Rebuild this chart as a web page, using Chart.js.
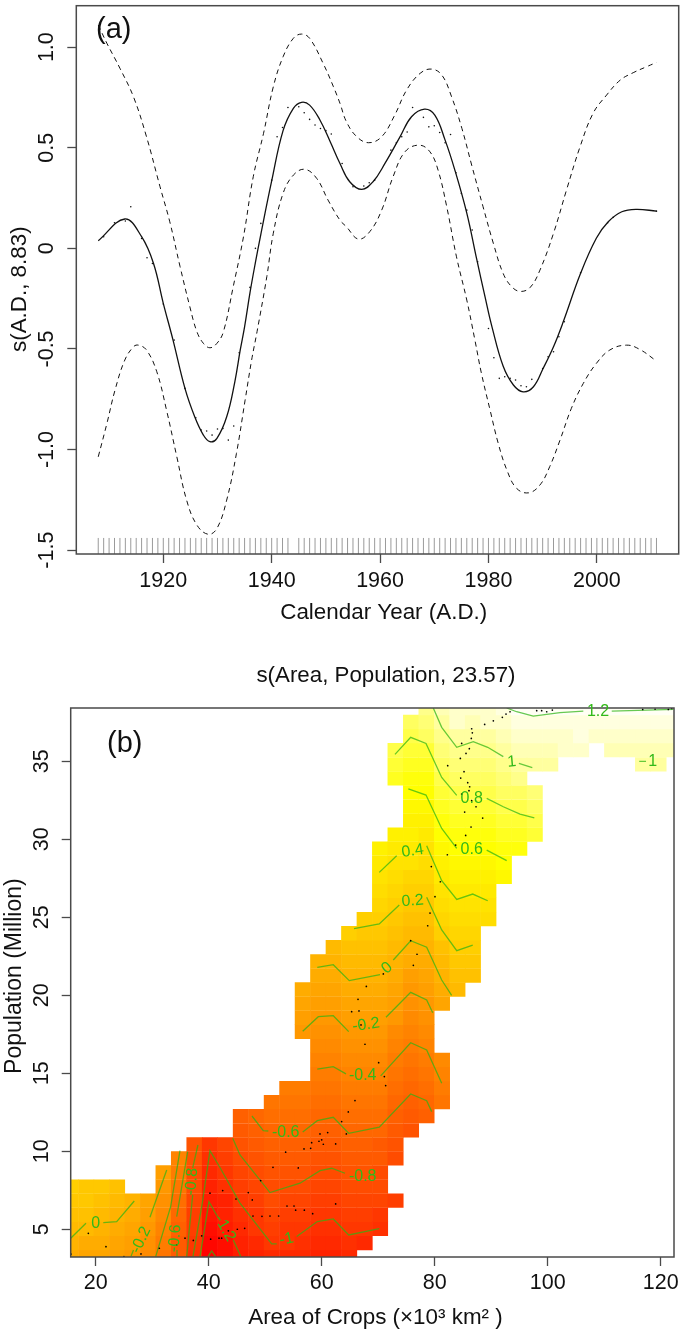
<!DOCTYPE html>
<html><head><meta charset="utf-8">
<style>html,body{margin:0;padding:0;background:#fff}
#wrap{position:relative;width:685px;height:1337px;overflow:hidden}
canvas{position:absolute;left:0}</style>
<script src="https://cdn.jsdelivr.net/npm/chart.js@4"></script>
</head><body><div id="wrap"><canvas id="a" width="685" height="640" style="top:0"></canvas><canvas id="b" width="685" height="697" style="top:640px"></canvas></div>
<script>
// ---------- Panel (a) ----------
const meanYears=[1908,1912.9,1916,1918.2,1920,1921.8,1924,1925.8,1927.4,1928.6,1929.9,1931.7,1933.2,1934.2,1935,1936,1937,1938,1940,1942.1,1944,1945.5,1947,1948.9,1950.8,1952.6,1954.4,1956.6,1958.7,1960.9,1963.7,1965.8,1968.2,1970.1,1972,1973.8,1976,1977.8,1979.4,1980.6,1982.7,1984.6,1986.4,1988.3,1990.1,1992,1993.8,1997,1999.9,2002.1,2004.6,2007.3,2011];
const meanVals=[.038,.146,.058,-.075,-.273,-.456,-.696,-.837,-.928,-.961,-.944,-.837,-.663,-.505,-.39,-.22,-.07,.07,.335,.585,.696,.726,.712,.638,.53,.422,.331,.293,.331,.422,.555,.654,.692,.662,.538,.389,.175,-.05,-.245,-.385,-.585,-.679,-.713,-.688,-.596,-.489,-.365,-.124,.05,.132,.182,.194,.185];
const upperYears=[1908,1909.6,1912,1914.5,1916.9,1919.4,1921.2,1923.1,1924.9,1926.2,1927.4,1928.6,1929.9,1931.1,1932.9,1934.8,1936.6,1938.5,1940.3,1942.1,1944,1945.5,1947,1949.5,1951.4,1952.6,1953.8,1955.7,1957.9,1960.3,1962.7,1964.9,1967.4,1969.5,1971.4,1973.2,1975.1,1976.9,1979,1980.9,1982.7,1984.3,1985.9,1987.7,1989.5,1992,1994.4,1996.9,1999.3,2001.8,2004.3,2006.7,2009.2,2011];
const upperVals=[1.11,1.019,.895,.753,.555,.306,.132,-.091,-.29,-.414,-.472,-.494,-.472,-.414,-.191,.058,.356,.572,.803,.952,1.044,1.065,1.044,.919,.803,.721,.629,.555,.525,.555,.662,.787,.87,.891,.861,.753,.596,.414,.207,.025,-.124,-.191,-.214,-.194,-.108,.075,.29,.505,.671,.762,.836,.873,.903,.924];
const lowerYears=[1908,1909.6,1911.1,1912.9,1914.5,1915.4,1916.9,1918.8,1920.6,1922.5,1924.3,1926.2,1928.3,1929.9,1931.7,1933.5,1935.1,1936.3,1937.3,1939.1,1940.3,1942.1,1944,1946.1,1948.3,1950.4,1952.6,1953.8,1956,1958.1,1960.3,1962.4,1964.6,1967.2,1969.2,1970.7,1972.3,1974.1,1976,1977.5,1978.7,1980.3,1981.8,1983.4,1985.2,1987.4,1989.5,1991.3,1993.2,1995.3,1997.5,1999.9,2002.4,2005.5,2007.9,2011];
const lowerVals=[-1.036,-.87,-.704,-.555,-.489,-.481,-.505,-.613,-.804,-1.036,-1.251,-1.375,-1.421,-1.392,-1.251,-1.019,-.754,-.555,-.414,-.141,.075,.273,.364,.393,.348,.24,.14,.107,.046,.083,.19,.356,.48,.513,.48,.389,.207,-.042,-.257,-.456,-.621,-.804,-.969,-1.102,-1.193,-1.215,-1.176,-1.085,-.953,-.795,-.671,-.572,-.505,-.481,-.502,-.56];
const dotYears=[1909,1911,1913,1914,1916,1917,1918,1920,1922,1924,1926,1927,1928,1929,1930,1931,1932,1933,1934,1936,1937,1938,1940,1941,1942,1943,1945,1946,1947,1948,1949,1950,1951,1953,1955,1957,1958,1959,1962,1963,1964,1965,1966,1968,1969,1970,1971,1972,1973,1974,1975,1976,1977,1978,1980,1981,1982,1983,1984,1985,1986,1987,1988,1990,1991,1992,1993,1994,1997,2002,2003,2011];
const dotVals=[.058,.127,.136,.207,.049,-.047,-.075,-.277,-.456,-.696,-.842,-.903,-.908,-.928,-.898,-.895,-.953,-.883,-.519,-.194,0,.124,.339,.555,.601,.7,.704,.674,.641,.613,.596,.585,.568,.422,.306,.31,.326,.339,.488,.525,.555,.578,.7,.651,.604,.609,.576,.525,.566,.376,.273,.19,.091,-.067,-.398,-.544,-.646,-.638,-.646,-.654,-.683,-.688,-.651,-.597,-.539,-.514,-.439,-.365,-.121,.127,.154,.185];
const rugYears=[1908,1909,1910,1911,1912,1913,1914,1915,1916,1917,1918,1919,1920,1921,1922,1923,1924,1925,1926,1927,1928,1929,1930,1931,1932,1933,1934,1935,1936,1937,1938,1939,1940,1941,1942,1943,1945,1946,1947,1948,1949,1950,1951,1952,1953,1954,1955,1956,1957,1958,1959,1960,1961,1962,1963,1964,1965,1966,1967,1968,1969,1970,1971,1972,1973,1974,1975,1976,1977,1978,1979,1980,1981,1982,1983,1984,1985,1986,1987,1988,1989,1990,1991,1992,1993,1994,1995,1996,1997,1998,1999,2000,2001,2002,2003,2004,2005,2006,2007,2008,2009,2010,2011];
const rugLevel=-1.479;
const xTicksA=[1920,1940,1960,1980,2000];
const yTicksA=[-1.5,-1,-.5,0,.5,1];
const yLabelsA=['-1.5','-1.0','-0.5','0','0.5','1.0'];

// ---------- Panel (b) ----------
const gridX=[15.58,18.32,21.06,23.79,26.53,29.27,32.01,34.74,37.48,40.22,42.96,45.69,48.43,51.17,53.91,56.65,59.38,62.12,64.86,67.6,70.33,73.07,75.81,78.55,81.29,84.02,86.76,89.5,92.24,94.97,97.71,100.45,103.19,105.92,108.66,111.4,114.14,116.87,119.61,122.35];
const gridY=[3.22,4.12,5.03,5.93,6.83,7.73,8.64,9.54,10.44,11.34,12.25,13.15,14.05,14.95,15.86,16.76,17.66,18.56,19.47,20.37,21.27,22.17,23.08,23.98,24.88,25.79,26.69,27.59,28.49,29.4,30.3,31.2,32.1,33.01,33.91,34.81,35.72,36.62,37.52,38.42];
const columnFirstRow=[0,0,0,0,0,0,0,0,0,0,0,0,0,0,0,0,0,0,0,1,2,4,9,10,11,19,20,24,27,29,30,35,36,36,37,36,36,35,35,36];
const surfaceByColumn=[
[-.07,.01,.06,.12,.16,.2],
[-.1,-.03,.03,.09,.14,.18],
[-.12,-.07,-.01,.05,.1,.14],
[-.14,-.09,-.03,.02,.07,.12],
[-.2,-.15,-.1,-.05,0],
[-.34,-.28,-.22,-.16,-.11],
[-.5,-.44,-.38,-.33,-.28,-.22,-.18],
[-.72,-.67,-.63,-.6,-.55,-.48,-.43,-.4],
[-1,-.95,-.92,-.89,-.86,-.83,-.8,-.77,-.73],
[-1.42,-1.36,-1.31,-1.25,-1.19,-1.14,-1.09,-1.03,-.98],
[-1.31,-1.26,-1.2,-1.15,-1.1,-1.04,-.98,-.92,-.86],
[-1.2,-1.14,-1.09,-1.04,-.98,-.92,-.87,-.81,-.76,-.7,-.65],
[-1.12,-1.06,-.99,-.95,-.91,-.85,-.79,-.74,-.69,-.63,-.58],
[-1.05,-.99,-.93,-.88,-.83,-.78,-.73,-.69,-.64,-.6,-.55,-.5],
[-1.05,-.99,-.95,-.9,-.85,-.79,-.74,-.69,-.64,-.59,-.55,-.5,-.45],
[-1.08,-1.03,-.97,-.92,-.87,-.81,-.75,-.7,-.65,-.59,-.53,-.47,-.42,null,null,null,-.2,-.15,-.1,-.04],
[-1.14,-1.08,-1.03,-.97,-.91,-.86,-.8,-.75,-.69,-.64,-.58,-.53,-.47,-.42,-.37,-.31,-.26,-.2,-.15,-.09,-.03,.02],
[-1.14,-1.09,-1.03,-.98,-.92,-.87,-.81,-.75,-.69,-.64,-.58,-.53,-.47,-.42,-.37,-.32,-.26,-.21,-.15,-.1,-.04,.01,.07],
[-1.08,-1.03,-.97,-.92,-.86,-.81,-.76,-.7,-.65,-.59,-.53,-.48,-.42,-.37,-.31,-.26,-.2,-.15,-.09,-.04,.02,.08,.13,.19],
[-1.05,-.99,-.93,-.88,-.82,-.76,-.71,-.65,-.6,-.55,-.49,-.44,-.38,-.33,-.27,-.22,-.16,-.1,-.05,.01,.07,.12,.18,.23],
[-1,-.94,-.88,-.83,-.78,-.72,-.67,-.61,-.56,-.5,-.45,-.39,-.34,-.28,-.23,-.17,-.12,-.06,0,.05,.11,.16,.22,.27,.33,.38,.44,.49],
[-.92,null,null,-.78,-.73,-.67,-.62,-.57,-.51,-.46,-.41,-.35,-.3,-.24,-.18,-.12,-.07,-.01,.04,.1,.15,.2,.27,.33,.38,.44,.49,null,null,null,.71,.76,.82],
[-.74,-.69,-.63,-.58,-.52,-.47,-.41,-.36,-.3,-.25,-.19,-.14,-.08,-.02,.04,.11,.18,.24,.29,.35,.41,.46,.49,.54,.59,.66,.7,.76,.81,.86],
[-.66,-.6,-.55,-.49,-.44,-.38,-.33,-.27,-.21,-.16,-.1,-.05,0,.06,.11,.17,.22,.27,.33,.39,.44,.5,.56,.61,.67,.72,.77,.84,.91,.98],
[-.47,-.42,-.37,-.31,null,null,null,-.09,-.04,.02,.08,.13,.19,.25,.3,.36,.41,.47,.52,.57,.63,.69,.74,.8,.85,.91,.96,1.02,1.07],
[.05,.1,.16,.22,.27,.32,.38,.43,.48,.53,.59,.64,.69,.75,.82,.88,.93,.99,1.04,1.1,1.13],
[.09,.14,.19,.25,.3,.36,.41,.48,.54,.6,.64,.7,.76,.81,.87,.92,.97,1.02,1.07,1.12],
[.33,.38,.44,.49,.55,.6,.66,.71,.77,.82,.88,.93,.99,1.04,1.1,1.13],
[.54,.59,.65,.7,.75,.8,.86,.91,.97,1.03,1.08,1.14,1.17],
[.67,.72,.77,.83,.88,.94,1,1.05,1.1,1.18,1.21],
[.74,.79,.85,.91,null,1.02,1.07,1.13,1.2,1.23],
[1.04,1.09,1.14,1.19,1.24],
[1.1,1.15,1.2,1.24],
[1.1,1.16,1.2,1.24],
[1.15,1.2,1.24],
[1.09,1.14,1.2,1.24],
[1.07,1.13,1.2,1.24],
[1,1.06,1.12,1.2,1.25],
[1,1.05,1.12,1.2,1.25],
[1.05,1.12,1.19,1.26]];
const contourSegments=[
[[92.74,38.42],[94.5,38.18],[97.45,37.9],[102.18,38.12],[106.3,38.22]],
[[111.33,38.22],[122.23,38.33]],
[[79.75,38.42],[81.24,37.18],[83.9,35.9],[86.83,36.26],[89.38,35.9],[92.14,35.3]],
[[94.9,34.87],[97.27,34.6]],
[[116.2,35],[117.4,35]],
[[72.97,35.45],[75.75,36.54],[78.46,36.15],[81.24,33.97],[83.9,32.82]],
[[89.2,32.63],[92.14,32.09],[95.1,31.62],[97.63,31.37]],
[[75.33,33.24],[78.46,32.84],[81.24,30.7],[83.9,29.42]],
[[89.2,29.31],[92.74,28.63]],
[[70.19,27.88],[73.27,28.95]],
[[78.58,29.59],[81.24,27.35],[83.9,26.15],[86.73,26.49],[89.38,26.06]],
[[65.72,24.27],[70.19,24.57],[73.73,25.79]],
[[78.58,26.28],[81.24,24.19],[83.9,22.86],[86.73,23.21]],
[[59.22,21.79],[62.05,21.96],[64.88,20.94],[70.32,21.32]],
[[72.67,22.26],[75.75,23.5],[78.58,23.08],[81.24,20.98],[83,20]],
[[15.58,4.42],[18.28,5.38]],
[[21.35,5.42],[23.72,5.49],[26.83,6.81]],
[[56.64,17.69],[59.4,18.63],[62.05,18.69],[64.78,17.67]],
[[71.38,18.59],[75.75,20.19],[78.58,19.7],[79.65,18.88]],
[[29.61,5.77],[32.57,8.8]],
[[26.25,3.26],[26.69,3.67]],
[[59.22,15.26],[62.05,15.42],[64.3,14.96]],
[[70.44,14.83],[75.75,16.96],[78.58,16.49],[81.24,14.36]],
[[30.62,3.24],[31.68,4.53],[33.27,6.45],[34.92,10.04]],
[[47.66,12.26],[49.66,11.32],[50.55,11.3]],
[[56.64,11.24],[59.22,11.96],[62.05,12.18],[64.78,11.15],[70.19,11.54],[75.75,13.67],[78.58,13.24],[79.47,12.54]],
[[34.34,5.81],[36.28,9.97]],
[[34.3,3.27],[34.39,3.67]],
[[44.25,10.83],[45.54,9.76],[50.85,7.35],[56.16,7.95],[59.7,8.76],[61.77,8.91],[64.12,8.59]],
[[38.1,10.4],[37.17,8.93]],
[[37.17,7.2],[36.1,3.24]],
[[37.22,3.24],[38.87,6.69],[40.23,10.04],[42,8.96],[45.54,6.67],[51.15,4.06],[52.04,4.06]],
[[55.58,4.53],[59.22,5.49],[62.05,5.66],[64.78,4.63],[70.19,5.04]],
[[38.46,3.24],[40.05,6.77],[41.7,5.72]],
[[44.35,4.31],[45.7,3.24]],
[[39.88,3.24],[40.53,3.61],[41.24,3.24]]];
const contourLabels=[
['1.2',108.9,38.16,0],['1',93.63,34.96,-5],['1',118.6,34.97,0],['0.8',86.55,32.58,0],['0.6',86.55,29.31,0],
['0.4',76.1,29.25,-8],['0.2',76.1,26.05,-5],['0',71.56,21.75,-40],['0',20,5.34,0],['-0.2',67.84,18.1,-8],
['-0.4',67.26,14.83,0],['-0.6',53.63,11.19,0],['-0.8',67.26,8.37,0],['-1',53.8,4.36,-12],
['-0.2',28.02,4.31,-65],['-0.6',34.04,4.42,-85],['-0.8',37,8.05,-85],['-1.2',42.88,5.06,60]];
const sampleArea=[98.05,98.93,99.82,100.82,93.33,92.62,91.97,90.38,88.84,86.54,86.66,86.48,84.77,86.13,85.54,84.54,82.3,85.19,84.6,85.84,86.19,86.07,84.77,86.54,87.31,85.3,88.49,86.43,85.48,83.71,82.24,79.4,81,80.05,79.17,78.76,75.75,76.87,76.22,70.91,67.9,66.43,116.81,119,121.35,121.94,65.3,66.6,66.96,67.66,70.08,71.09,71.32,65.89,64.71,63.53,64.36,61.06,59.7,60,59.52,60.29,62.47,58.22,56.87,58.05,53.62,51.38,55.86,49.2,47.01,44.83,47.72,53.86,55.1,55.39,56.93,58.4,62.47,47.84,49.43,50.85,52.38,46.37,45.07,40.23,42.48,43.48,42.3,38.76,37.28,35.81,34.33,40.35,41.83,31.27,28.02,18.7,21.82,15.63,25];
const samplePop=[38.25,38.25,38.18,38.29,38.18,38.03,37.82,37.6,37.37,37.09,36.83,36.47,36.15,35.81,35.51,35.19,34.72,34.34,33.93,33.63,33.37,33.12,32.9,32.48,32.09,31.75,31.36,30.79,30.25,29.63,29.01,28.25,27.28,26.32,25.27,24.46,23.5,22.63,21.92,21.37,20.57,19.74,38.33,38.35,38.33,38.39,18.95,19,18.1,16.86,15.68,14.79,14.21,13.25,12.52,11.9,11.11,11.2,11.11,10.73,10.64,10.45,10.47,10.55,10.15,10.19,9.94,8.97,8.93,8.12,7.35,6.94,6.88,6.49,6.49,6.22,6.22,6,6.62,5.85,5.83,5.85,5.85,5.06,5,7.31,7.48,4.9,4.43,4.58,4.28,4.43,4,4.36,4.43,3.78,3.42,4.74,3.88,3.41,3.24];
const xTicksB=[20,40,60,80,100,120];
const yTicksB=[5,10,15,20,25,30,35];

// ---------- helpers ----------
const FONT='"Liberation Sans", Arial, sans-serif';
const INK='#111', AXIS='#4a4a4a';
Chart.defaults.font.family=FONT;
Chart.defaults.color=INK;

function heatColor(v){ // R heat.colors(50) over the surface range
  const zmin=-1.42,zmax=1.26,n=50,j=12,i=n-j;
  let k=Math.floor((v-zmin)/(zmax-zmin)*n); k=Math.max(0,Math.min(n-1,k));
  if(k<i) return 'hsl('+(60*k/(i-1))+',100%,50%)';
  const m=k-i, s=(1-1/(2*j))-m*(1-1/j)/(j-1);
  return 'rgb(255,255,'+Math.round(255*(1-s))+')';
}
const toXY=(xs,ys)=>xs.map((x,i)=>({x,y:ys[i]}));
function boxPlugin(extra){return {id:'box',afterDatasetsDraw(ch){
  const a=ch.chartArea,c=ch.ctx;c.save();c.strokeStyle=AXIS;c.lineWidth=1.5;
  c.strokeRect(a.left,a.top,a.right-a.left,a.bottom-a.top);c.restore();extra(ch,c);}};}
function fixSize(prop,val){return s=>{s[prop]=val;s.paddingTop=0;s.paddingBottom=0;s.paddingLeft=0;s.paddingRight=0;};}
function axis(o){return Object.assign({type:'linear',grid:{drawOnChartArea:false,drawTicks:true,tickLength:9,color:AXIS,tickWidth:1.3,offset:false},border:{display:false}},o);}
const tickFont={size:21.5,family:FONT};
const titleFont={size:22.4,family:FONT};
function baseOptions(scales,pad){return {responsive:false,animation:false,devicePixelRatio:1,events:[],
  layout:{autoPadding:false,padding:pad},
  plugins:{legend:{display:false},tooltip:{enabled:false},title:{display:false}},scales};}

// ---------- chart (a) ----------
const lineDs=(xs,ys,width,dash)=>({type:'line',data:toXY(xs,ys),borderColor:'#111',borderWidth:width,borderDash:dash,pointRadius:0,tension:.4,fill:false,order:2});
new Chart(document.getElementById('a'),{type:'scatter',
 data:{datasets:[
  lineDs(meanYears,meanVals,1.3,[]),
  lineDs(upperYears,upperVals,1,[5,4]),
  lineDs(lowerYears,lowerVals,1,[5,4]),
  {type:'scatter',data:toXY(dotYears,dotVals),pointRadius:.8,pointBackgroundColor:'#111',pointBorderWidth:0,order:1},
  {type:'scatter',data:rugYears.map(x=>({x,y:rugLevel})),pointStyle:'line',pointRotation:90,pointRadius:8,pointBorderColor:'#9a9a9a',pointBorderWidth:1,order:3}
 ]},
 options:baseOptions({
  x:axis({position:'bottom',min:1903.95,max:2015.1,afterFit:fixSize('height',86),afterBuildTicks:s=>{s.ticks=xTicksA.map(value=>({value}))},
    ticks:{autoSkip:false,maxRotation:0,minRotation:0,padding:5,font:tickFont,color:INK,callback:v=>String(v)},
    title:{display:true,text:'  Calendar Year (A.D.)',font:titleFont,color:INK,padding:{top:0,bottom:13.8}}}),
  y:axis({position:'left',min:-1.519,max:1.206,afterFit:fixSize('width',76.3),afterBuildTicks:s=>{s.ticks=yTicksA.map(value=>({value}))},
    ticks:{autoSkip:false,minRotation:90,maxRotation:90,crossAlign:'center',padding:2,font:tickFont,color:INK,callback:v=>yLabelsA[yTicksA.indexOf(v)]},
    title:{display:true,text:'s(A.D., 8.83)   ',font:titleFont,color:INK,padding:{top:6.8,bottom:0}}})
 },{left:0,right:6.3,top:5.7,bottom:0}),
 plugins:[boxPlugin((ch,c)=>{c.save();c.fillStyle=INK;c.font='29px '+FONT;c.textAlign='left';c.textBaseline='alphabetic';c.fillText('(a)',96,38);c.restore();})]
});

// ---------- chart (b) ----------
const cells=[],cellColors=[];
surfaceByColumn.forEach((col,i)=>col.forEach((v,k)=>{
  if(v===null) return;
  const j=columnFirstRow[i]+k;
  cells.push({x:gridX[i],y:[gridY[j]-.46,gridY[j]+.46]});
  cellColors.push(heatColor(v));
}));
new Chart(document.getElementById('b'),{type:'bar',
 data:{datasets:[
  {type:'bar',data:cells,backgroundColor:cellColors,borderWidth:0,barThickness:16,inflateAmount:0,order:5},
  ...contourSegments.map(seg=>({type:'line',data:seg.map(([x,y])=>({x,y})),borderColor:'rgba(45,180,20,.72)',borderWidth:1.3,pointRadius:0,tension:0,fill:false,order:3})),
  {type:'scatter',data:toXY(sampleArea,samplePop),pointRadius:.85,pointBackgroundColor:'#000',pointBorderWidth:0,order:1}
 ]},
 options:baseOptions({
  x:axis({position:'bottom',offset:false,min:15.58,max:122.35,afterFit:fixSize('height',80),afterBuildTicks:s=>{s.ticks=xTicksB.map(value=>({value}))},
    ticks:{autoSkip:false,maxRotation:0,minRotation:0,padding:4,font:tickFont,color:INK,callback:v=>String(v)},
    title:{display:true,text:' Area of Crops (×10³ km² )',font:titleFont,color:INK,padding:{top:0,bottom:5.8}}}),
  y:axis({position:'left',min:3.22,max:38.42,afterFit:fixSize('width',70.7),afterBuildTicks:s=>{s.ticks=yTicksB.map(value=>({value}))},
    ticks:{autoSkip:false,minRotation:90,maxRotation:90,crossAlign:'center',padding:8,font:tickFont,color:INK,callback:v=>String(v)},
    title:{display:true,text:'  Population (Million)',font:{size:23,family:FONT},color:INK,padding:{top:.8,bottom:0}}})
 },{left:0,right:11,top:68,bottom:0}),
 plugins:[boxPlugin((ch,c)=>{
  const sx=ch.scales.x,sy=ch.scales.y;
  c.save();c.fillStyle='rgb(50,185,25)';c.font='16px '+FONT;c.textAlign='center';c.textBaseline='middle';
  contourLabels.forEach(([t,x,y,r])=>{c.save();c.translate(sx.getPixelForValue(x),sy.getPixelForValue(y));c.rotate(r*Math.PI/180);c.fillText(t,0,0);c.restore();});
  c.fillStyle=INK;c.font='22.3px '+FONT;c.fillText('s(Area, Population, 23.57)',386,36);
  c.font='29px '+FONT;c.textAlign='left';c.textBaseline='alphabetic';c.fillText('(b)',107,112);
  c.restore();})]
});
</script></body></html>
